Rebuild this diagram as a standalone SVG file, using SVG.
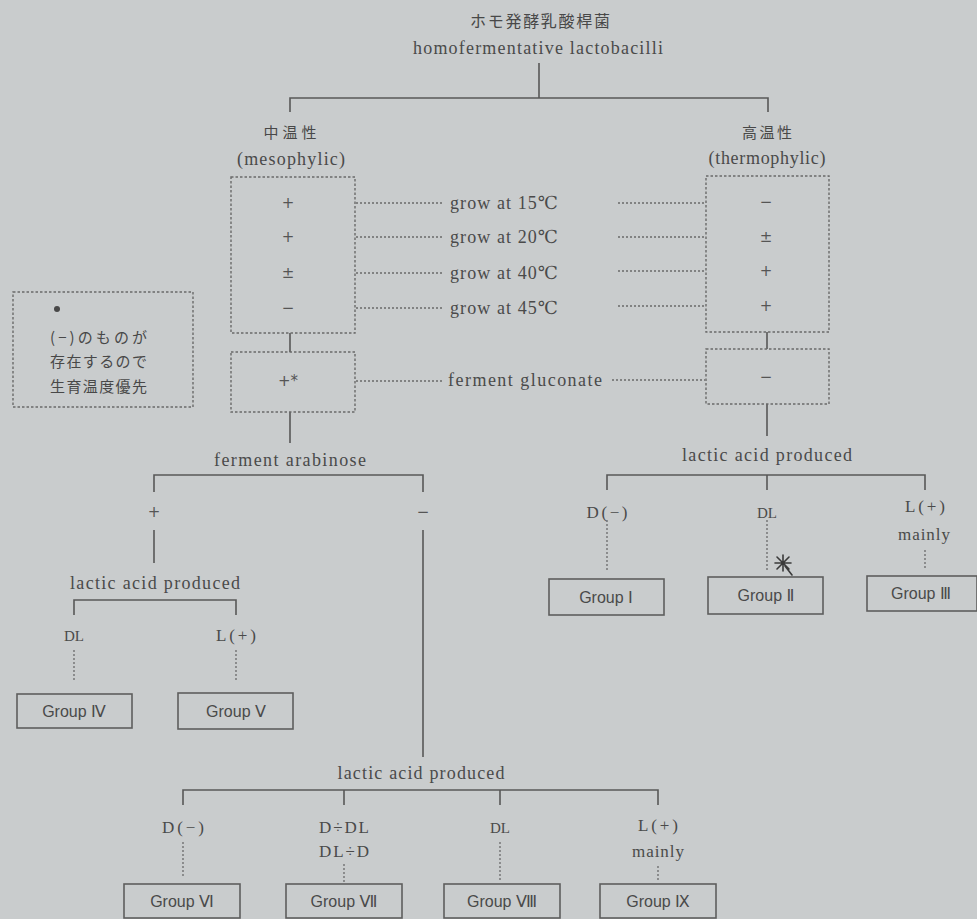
<svg xmlns="http://www.w3.org/2000/svg" width="977" height="919" viewBox="0 0 977 919">
  <style>
    .t { font-family: "Liberation Serif", "DejaVu Serif", serif; font-size: 18px; fill: #4a4a4a; text-anchor: middle; }
    .s { font-family: "Liberation Serif", "DejaVu Serif", serif; font-size: 18px; fill: #4a4a4a; text-anchor: start; }
    .m { font-family: "Liberation Serif", "DejaVu Serif", serif; font-size: 17px; fill: #4a4a4a; text-anchor: middle; }
    .d { font-family: "Liberation Serif", "DejaVu Serif", serif; font-size: 15px; fill: #4a4a4a; text-anchor: middle; }
    .v { font-family: "DejaVu Sans", sans-serif; font-size: 15px; fill: #555; text-anchor: middle; }
    .j { font-family: "Noto Sans CJK JP", sans-serif; font-size: 15px; fill: #484848; }
    .g { font-family: "Liberation Sans", "DejaVu Sans", sans-serif; font-size: 16px; fill: #4a4a4a; text-anchor: middle; }
    .ln { stroke: #585858; stroke-width: 1.6; fill: none; }
    .dot { stroke: #6a6a6a; stroke-width: 1.3; stroke-dasharray: 2 2; fill: none; }
    .dbox { stroke: #6a6a6a; stroke-width: 1.4; stroke-dasharray: 2.5 2; fill: none; }
    .box { fill: none; stroke: #5e5e5e; stroke-width: 1.6; }
  </style>
  <rect width="977" height="919" fill="#c9cccd"/>

  <!-- connectors -->
  <g id="connectors">
    <path class="ln" d="M539 63 V98 M290 112 V98 H768 V112"/>
    <!-- growth temperature rows -->
    <path class="dot" d="M356 203 H442 M356 237 H442 M356 273 H442 M356 308 H442"/>
    <path class="dot" d="M618 203 H705 M618 237 H705 M618 271 H705 M618 306 H705"/>
    <path class="dot" d="M356 381 H443 M612 380 H705"/>
    <path class="ln" d="M290 333 V352 M767 332 V349"/>
    <path class="ln" d="M290 412 V443 M767 404 V436"/>
    <!-- arabinose branch -->
    <path class="ln" d="M154 492 V475 H423 V492"/>
    <path class="ln" d="M154 530 V563 M423 530 V757"/>
    <path class="ln" d="M74 615 V600 H236 V615"/>
    <path class="dot" d="M74 650 V682 M236 650 V682"/>
    <!-- thermophilic branch -->
    <path class="ln" d="M607 490 V475 H925 V490 M767 475 V490"/>
    <path class="dot" d="M607 520 V572 M767 520 V572 M925 550 V568"/>
    <!-- bottom branch -->
    <path class="ln" d="M183 805 V790 H658 V805 M344 790 V805 M500 790 V805"/>
    <path class="dot" d="M183 842 V878 M344 864 V882 M500 842 V880 M658 866 V882"/>
  </g>

  <g id="root">
    <text class="j" x="540" y="27" style="font-size:16px" text-anchor="middle" textLength="140">ホモ発酵乳酸桿菌</text>
    <text class="t" x="538" y="54" textLength="250">homofermentative lactobacilli</text>
  </g>

  <g id="meso-head">
    <text class="j" x="290" y="138" text-anchor="middle" textLength="53">中温性</text>
    <text class="t" x="291" y="165" textLength="108">(mesophylic)</text>
  </g>
  <g id="thermo-head">
    <text class="j" x="767" y="138" text-anchor="middle" textLength="50">高温性</text>
    <text class="t" x="767" y="164" textLength="117">(thermophylic)</text>
  </g>

  <g id="meso-growth">
    <rect class="dbox" x="231" y="177" width="124" height="156"/>
    <text class="v" x="288" y="208">+</text>
    <text class="v" x="288" y="242">+</text>
    <text class="v" x="288" y="278">±</text>
    <text class="v" x="288" y="313">−</text>
  </g>
  <g id="thermo-growth">
    <rect class="dbox" x="706" y="176" width="123" height="156"/>
    <text class="v" x="766" y="207">−</text>
    <text class="v" x="766" y="242">±</text>
    <text class="v" x="766" y="276">+</text>
    <text class="v" x="766" y="311">+</text>
  </g>

  <g id="growth-labels">
    <text class="s" x="450" y="209" textLength="108">grow at 15℃</text>
    <text class="s" x="450" y="243" textLength="108">grow at 20℃</text>
    <text class="s" x="450" y="279" textLength="108">grow at 40℃</text>
    <text class="s" x="450" y="314" textLength="108">grow at 45℃</text>
  </g>

  <g id="meso-gluconate">
    <rect class="dbox" x="231" y="352" width="124" height="60"/>
    <text class="v" x="288" y="386">+*</text>
  </g>
  <g id="thermo-gluconate">
    <rect class="dbox" x="706" y="349" width="123" height="55"/>
    <text class="v" x="766" y="382">−</text>
  </g>
  <g id="gluconate-label">
    <text class="s" x="448" y="386" textLength="154">ferment gluconate</text>
  </g>

  <g id="note">
    <rect class="dbox" x="13" y="292" width="180" height="115"/>
    <circle cx="57" cy="309" r="3" fill="#484848"/>
    <text class="j" x="50" y="343" textLength="97">(−)のものが</text>
    <text class="j" x="50" y="367" textLength="97">存在するので</text>
    <text class="j" x="50" y="392" textLength="97">生育温度優先</text>
  </g>

  <g id="arabinose">
    <text class="t" x="290" y="466" textLength="152">ferment arabinose</text>
    <text class="v" x="154" y="517">+</text>
    <text class="v" x="423" y="517">−</text>
  </g>

  <g id="lactic-left">
    <text class="t" x="155" y="589" textLength="170">lactic acid produced</text>
    <text class="d" x="74" y="641">DL</text>
    <text class="m" x="236" y="641" textLength="40">L(+)</text>
  </g>
  <g id="group-4">
    <rect class="box" x="17" y="694" width="115" height="34"/>
    <text class="g" x="74" y="717">Group Ⅳ</text>
  </g>
  <g id="group-5">
    <rect class="box" x="178" y="693" width="115" height="36"/>
    <text class="g" x="236" y="717">Group Ⅴ</text>
  </g>

  <g id="lactic-right">
    <text class="t" x="767" y="461" textLength="170">lactic acid produced</text>
    <text class="m" x="607" y="518" textLength="41">D(−)</text>
    <text class="d" x="767" y="518">DL</text>
    <text class="m" x="925" y="512" textLength="40">L(+)</text>
    <text class="m" x="924" y="540" textLength="52">mainly</text>
  </g>
  <g id="group-1">
    <rect class="box" x="549" y="579" width="115" height="36"/>
    <text class="g" x="606" y="603">Group Ⅰ</text>
  </g>
  <g id="group-2">
    <rect class="box" x="708" y="577" width="115" height="37"/>
    <text class="g" x="766" y="601">Group Ⅱ</text>
  </g>
  <g id="group-3">
    <rect class="box" x="867" y="576" width="110" height="35"/>
    <text class="g" x="921" y="599">Group Ⅲ</text>
  </g>
  <!-- pen mark beside Group II -->
  <g id="pen-mark" stroke="#3a3a3a" stroke-width="1.6" fill="none" stroke-linecap="round">
    <path d="M777 557 L789 569 M789 557 L777 569 M775 563 H791 M783 555 V571 M785 566 L792 575"/>
  </g>

  <g id="lactic-bottom">
    <text class="t" x="421" y="779" textLength="167">lactic acid produced</text>
    <text class="m" x="183" y="833" textLength="42">D(−)</text>
    <text class="m" x="344" y="833" textLength="50">D÷DL</text>
    <text class="m" x="344" y="857" textLength="50">DL÷D</text>
    <text class="d" x="500" y="833">DL</text>
    <text class="m" x="658" y="831" textLength="40">L(+)</text>
    <text class="m" x="658" y="857" textLength="52">mainly</text>
  </g>
  <g id="group-6">
    <rect class="box" x="124" y="884" width="116" height="34"/>
    <text class="g" x="182" y="907">Group Ⅵ</text>
  </g>
  <g id="group-7">
    <rect class="box" x="286" y="884" width="116" height="34"/>
    <text class="g" x="344" y="907">Group Ⅶ</text>
  </g>
  <g id="group-8">
    <rect class="box" x="444" y="884" width="116" height="34"/>
    <text class="g" x="502" y="907">Group Ⅷ</text>
  </g>
  <g id="group-9">
    <rect class="box" x="600" y="884" width="116" height="34"/>
    <text class="g" x="658" y="907">Group Ⅸ</text>
  </g>
</svg>
